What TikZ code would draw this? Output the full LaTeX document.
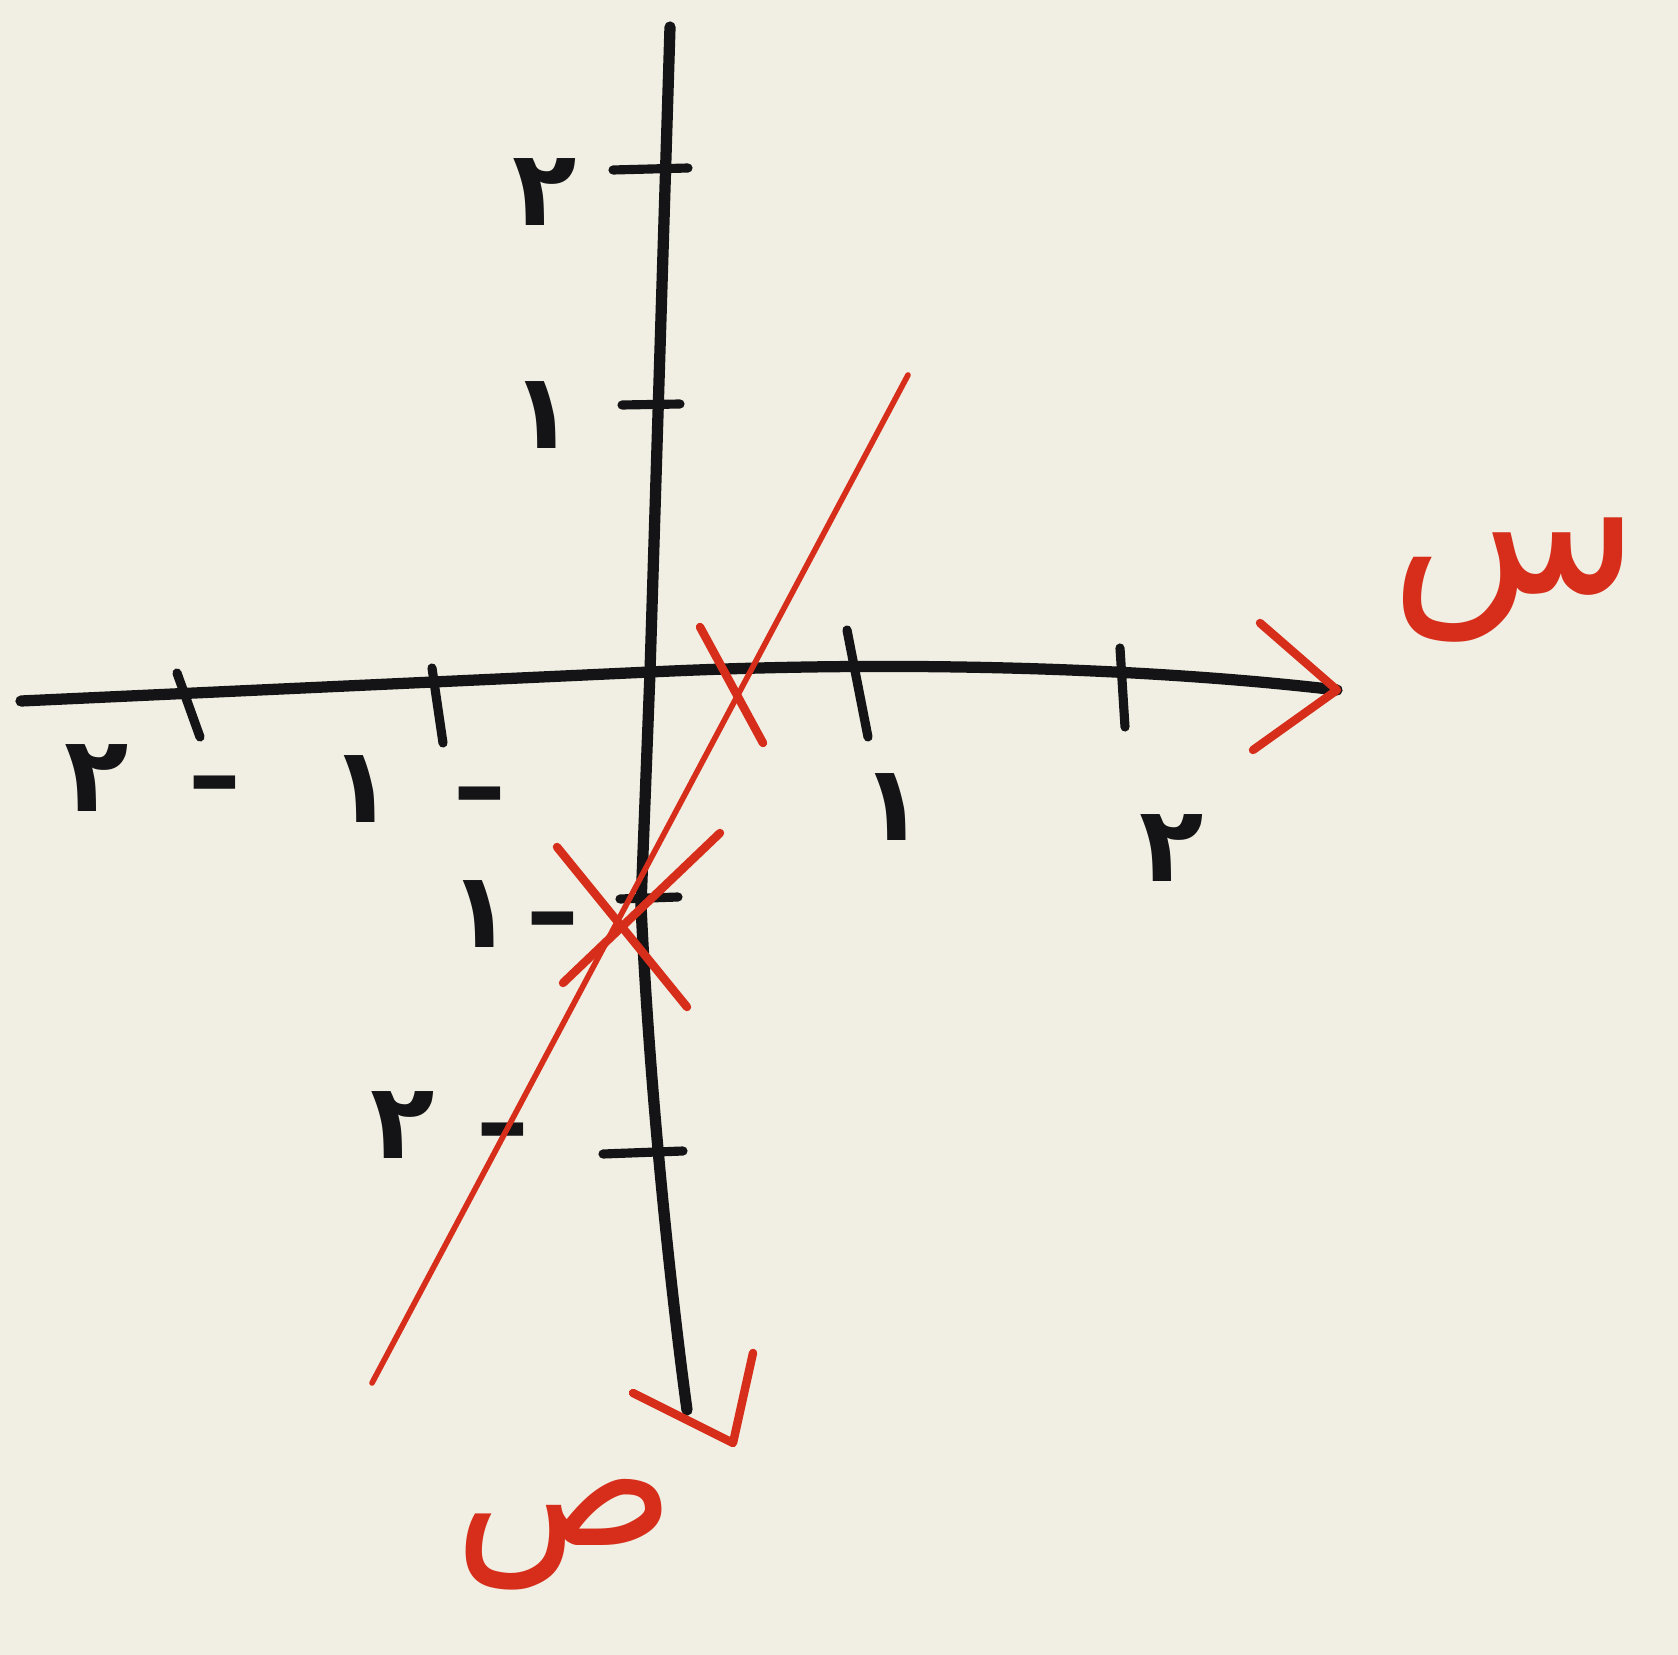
\documentclass[tikz,border=0pt]{standalone}
\usepackage{fontspec}
\newfontfamily\arabicfont[Script=Arabic]{DejaVu Sans}
\TeXXeTstate=1
\definecolor{paper}{RGB}{241,238,227}
\definecolor{ink}{RGB}{20,20,22}
\definecolor{pen}{RGB}{214,46,26}

\begin{document}
\begin{tikzpicture}[x=0.01cm,y=-0.01cm,
    axisline/.style = {ink,line width=3.2pt,line cap=round,line join=round},
    tickline/.style = {ink,line width=2.6pt,line cap=round},
    redline/.style  = {pen,line width=1.6pt,line cap=round},
    redmark/.style  = {pen,line width=2.4pt,line cap=round,line join=round},
    num/.style      = {ink,inner sep=0pt,font=\arabicfont\bfseries\fontsize{30}{32}\selectfont},
    axname/.style   = {pen,inner sep=0pt}
  ]
  \fill[paper] (0,0) rectangle (1678,1655);
  \useasboundingbox (0,0) rectangle (1678,1655);

  % axes
  \coordinate (O)  at (650,672);
  \coordinate (xl) at (21,701);
  \coordinate (xr) at (1337,690);
  \coordinate (yt) at (670,27);
  \coordinate (yk) at (641,905);
  \coordinate (yb) at (687,1410);
  \draw[axisline] (xl) -- (O) .. controls (900,660) and (1150,668) .. (xr);
  \draw[axisline] (yt) -- (O) -- (yk) .. controls (650,1100) and (672,1300) .. (yb);

  % ticks
  \foreach \n/\a/\b in {m2/{177,673}/{200,737}, m1/{432,668}/{443,743},
                        p1/{847,630}/{868,737}, p2/{1120,648}/{1125,727}}{
    \coordinate (tx\n a) at (\a);
    \coordinate (tx\n b) at (\b);
    \draw[tickline] (tx\n a) -- (tx\n b);
  }
  \foreach \n/\a/\b in {p2/{613,170}/{688,168}, p1/{622,405}/{680,404},
                        m1/{620,899}/{678,897}, m2/{603,1154}/{683,1151}}{
    \coordinate (ty\n a) at (\a);
    \coordinate (ty\n b) at (\b);
    \draw[tickline] (ty\n a) -- (ty\n b);
  }

  % numbers
  \node[num] (lxm2) at (153,778) {٢\hspace{17pt}–};
  \node[num] (lxm1) at (418,789) {١\hspace{17pt}–};
  \node[num] (lxp1) at (893,807) {١};
  \node[num] (lxp2) at (1172,848) {٢};
  \node[num] (lyp2) at (545,192) {٢};
  \node[num] (lyp1) at (543,415) {١};
  \node[num] (lym1) at (514,914) {١\hspace{4pt}–};
  \node[num] (lym2) at (450,1125) {٢\hspace{12pt}–};

  % line
  \coordinate (ra) at (372,1383);
  \coordinate (rb) at (908,375);
  \draw[redline] (ra) -- (rb);

  % crossings
  \coordinate (cx1) at (700,627);
  \coordinate (cx2) at (763,743);
  \draw[redmark] (cx1) -- (cx2);
  \coordinate (cy1) at (557,847);
  \coordinate (cy2) at (687,1007);
  \coordinate (cy3) at (720,833);
  \coordinate (cy4) at (563,983);
  \draw[redmark] (cy1) -- (cy2);
  \draw[redmark] (cy3) -- (cy4);

  % arrow ends
  \coordinate (ax1) at (1260,623);
  \coordinate (ax2) at (1253,750);
  \draw[redmark] (ax1) -- (xr) -- (ax2);
  \coordinate (ay1) at (633,1393);
  \coordinate (ay2) at (733,1443);
  \coordinate (ay3) at (753,1353);
  \draw[redmark] (ay1) -- (ay2) -- (ay3);

  % axis names
  \node[axname,font=\arabicfont\fontsize{58}{60}\selectfont] (sx) at (1515,580) {\beginR س\endR};
  \node[axname,font=\arabicfont\fontsize{52}{54}\selectfont] (sy) at (565,1535) {\beginR ص\endR};
\end{tikzpicture}
\end{document}
